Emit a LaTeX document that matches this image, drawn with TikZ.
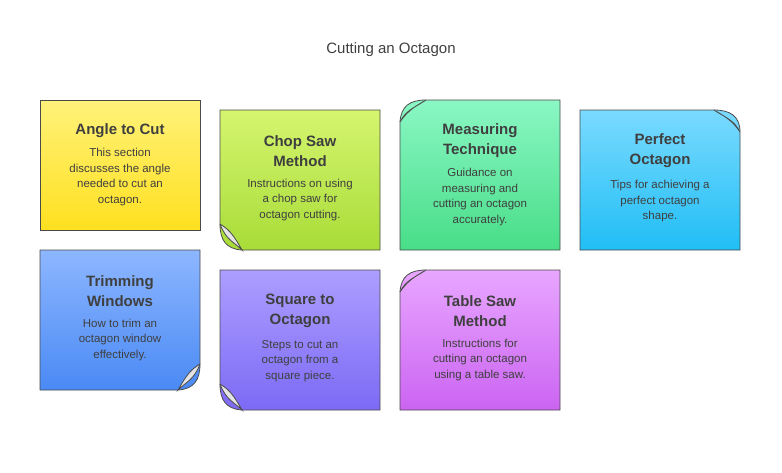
\documentclass[tikz,border=0pt]{standalone}
\usepackage{fontspec}
\setmainfont{Liberation Sans}
\usepackage{tikz}
\usetikzlibrary{positioning}
\definecolor{ink}{HTML}{3F3F3F}
\definecolor{edgec}{HTML}{4A4A4A}
\definecolor{yelA}{HTML}{FFF27A}\definecolor{yelB}{HTML}{FFE01F}
\definecolor{limA}{HTML}{D5F56F}\definecolor{limB}{HTML}{A8DC38}
\definecolor{grnA}{HTML}{8AF7C4}\definecolor{grnB}{HTML}{48DD88}
\definecolor{cyaA}{HTML}{7ADAFF}\definecolor{cyaB}{HTML}{20BEF5}
\definecolor{bluA}{HTML}{8DB6FF}\definecolor{bluB}{HTML}{4A8AF5}
\definecolor{purA}{HTML}{AC9EFF}\definecolor{purB}{HTML}{7D6AF5}
\definecolor{magA}{HTML}{E8A6FF}\definecolor{magB}{HTML}{CB64F2}
\definecolor{curlc}{HTML}{E4E4E4}
% card outline: #1 left, #2 top, #3 right, #4 bottom, #5 corner (0 none,1 bl,2 tl,3 tr,4 br)
\newcommand{\cardpath}[5]{%
  \ifcase#5
    (#1,#2) -- (#3,#2) -- (#3,#4) -- (#1,#4) -- cycle
  \or
    (#1,#2) -- (#3,#2) -- (#3,#4) -- ({#1+22},#4) .. controls ({#1+6},{#4-1}) and (#1,{#4-10}) .. (#1,{#4-26}) -- cycle
  \or
    ({#1+26},#2) -- (#3,#2) -- (#3,#4) -- (#1,#4) -- (#1,{#2+22}) .. controls ({#1+1},{#2+6}) and ({#1+10},#2) .. ({#1+26},#2)
  \or
    (#1,#2) -- ({#3-26},#2) .. controls ({#3-10},#2) and (#3,{#2+6}) .. (#3,{#2+22}) -- (#3,#4) -- (#1,#4) -- cycle
  \or
    (#1,#2) -- (#3,#2) -- (#3,{#4-26}) .. controls (#3,{#4-10}) and ({#3-6},{#4-1}) .. ({#3-22},#4) -- (#1,#4) -- cycle
  \fi}
\newcommand{\curl}[5]{%
  \ifcase#5
  \or
    \draw[edgec,thick,fill=curlc] (#1,{#4-26}) .. controls ({#1+10},{#4-20}) and ({#1+14},{#4-14}) .. ({#1+22},#4) .. controls ({#1+14},{#4-8}) and ({#1+6},{#4-10}) .. (#1,{#4-26});
  \or
    \draw[edgec,thick,fill=curlc] (#1,{#2+22}) .. controls ({#1+8},{#2+10}) and ({#1+16},{#2+6}) .. ({#1+26},#2) .. controls ({#1+14},{#2+8}) and ({#1+6},{#2+10}) .. (#1,{#2+22});
  \or
    \draw[edgec,thick,fill=curlc] (#3,{#2+22}) .. controls ({#3-8},{#2+10}) and ({#3-16},{#2+6}) .. ({#3-26},#2) .. controls ({#3-14},{#2+8}) and ({#3-6},{#2+10}) .. (#3,{#2+22});
  \or
    \draw[edgec,thick,fill=curlc] (#3,{#4-26}) .. controls ({#3-10},{#4-20}) and ({#3-14},{#4-14}) .. ({#3-22},#4) .. controls ({#3-14},{#4-8}) and ({#3-6},{#4-10}) .. (#3,{#4-26});
  \fi}
\newcommand{\card}[7]{%
  \shade[top color=#6,bottom color=#7] \cardpath{#1}{#2}{#3}{#4}{#5};
  \draw[edgec,thick] \cardpath{#1}{#2}{#3}{#4}{#5};
  \curl{#1}{#2}{#3}{#4}{#5}}

\begin{document}
\begin{tikzpicture}
  [x=1pt,y=-1pt,
  head/.style={font=\fontsize{15}{20}\selectfont\bfseries,text=ink,align=center,inner sep=0pt},
  body/.style={font=\fontsize{11.5}{15.5}\selectfont,text=ink,align=center,inner sep=0pt},
  title/.style={font=\fontsize{15}{18}\selectfont,text=ink}]

  \useasboundingbox (0,0) rectangle (782,472);
  \node[title] (title) at (391,50) {Cutting an Octagon};

  \card{40}{100}{200}{230}{0}{yelA}{yelB}
  \card{220}{110}{380}{250}{1}{limA}{limB}
  \card{400}{100}{560}{250}{2}{grnA}{grnB}
  \card{580}{110}{740}{250}{3}{cyaA}{cyaB}
  \card{40}{250}{200}{390}{4}{bluA}{bluB}
  \card{220}{270}{380}{410}{1}{purA}{purB}
  \card{400}{270}{560}{410}{2}{magA}{magB}

  \node[head] (angle) at (120,131) {Angle to Cut};
  \node[body,below=10pt of angle] (angleb) {This section\\discusses the angle\\needed to cut an\\octagon.};
  \node[head] (chop) at (300,151) {Chop Saw\\Method};
  \node[body,below=12pt of chop] (chopb) {Instructions on using\\a chop saw for\\octagon cutting.};
  \node[head] (measure) at (480,141) {Measuring\\Technique};
  \node[body,below=10pt of measure] (measureb) {Guidance on\\measuring and\\cutting an octagon\\accurately.};
  \node[head] (perfect) at (660,151) {Perfect\\Octagon};
  \node[body,below=12pt of perfect] (perfectb) {Tips for achieving a\\perfect octagon\\shape.};
  \node[head] (trim) at (120,291) {Trimming\\Windows};
  \node[body,below=12pt of trim] (trimb) {How to trim an\\octagon window\\effectively.};
  \node[head] (square) at (300,311) {Square to\\Octagon};
  \node[body,below=12pt of square] (squareb) {Steps to cut an\\octagon from a\\square piece.};
  \node[head] (table) at (480,311) {Table Saw\\Method};
  \node[body,below=12pt of table] (tableb) {Instructions for\\cutting an octagon\\using a table saw.};
\end{tikzpicture}
\end{document}
